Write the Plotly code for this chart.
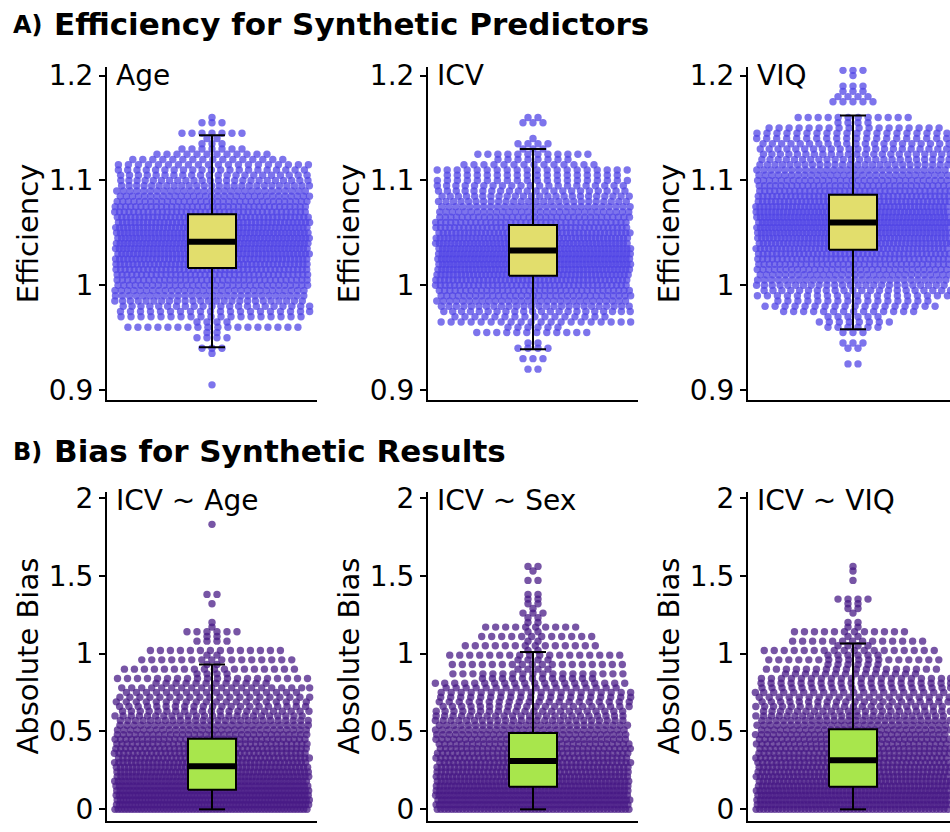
import numpy as np
import plotly.graph_objects as go

# ---------------- data ----------------
EFF_LEVELS = np.round(np.arange(0.905, 1.2101, 0.005), 3)   # value levels (bins) for efficiency
BIAS_LEVELS = np.round(np.arange(0.0, 1.861, 0.03), 2)      # value levels (bins) for absolute bias

# number of simulated results at each efficiency level
eff_age = [1, 0, 0, 0, 0, 0, 1, 3, 0, 4, 2, 18, 4, 19, 20, 22, 25, 28, 31, 34,
           37, 40, 43, 46, 48, 50, 52, 52, 52, 51, 49, 47, 44, 41, 38, 35, 32, 29, 26, 24,
           22, 21, 20, 16, 12, 7, 3, 2, 7, 0, 3, 1, 0, 0, 0, 0, 0, 0, 0, 0, 0, 0]
eff_icv = [0, 0, 0, 2, 0, 3, 0, 4, 2, 0, 12, 6, 20, 16, 22, 26, 30, 34, 37, 41,
           45, 48, 51, 53, 54, 54, 53, 51, 49, 46, 42, 39, 35, 31, 28, 26, 24, 22, 21, 20,
           18, 20, 14, 8, 12, 3, 4, 1, 0, 0, 3, 2, 0, 0, 0, 0, 0, 0, 0, 0, 0, 0]
eff_viq = [0, 0, 0, 0, 2, 0, 0, 2, 3, 0, 3, 6, 8, 6, 14, 18, 16, 20, 22, 25,
           28, 31, 34, 37, 40, 43, 46, 48, 50, 52, 53, 53, 52, 50, 48, 45, 42, 39, 36, 33,
           30, 28, 26, 24, 23, 22, 21, 20, 20, 18, 4, 12, 0, 0, 5, 4, 3, 3, 0, 1, 3, 0]

# number of simulated results at each absolute-bias level
bias_age = [60, 62, 62, 60, 58, 56, 54, 52, 50, 48, 46, 44, 42, 40, 38, 36, 33, 30, 28, 26,
            24, 22, 21, 20, 20, 18, 20, 12, 20, 4, 18, 2, 16, 2, 14, 0, 4, 2, 6, 1,
            1, 0, 0, 0, 1, 0, 2, 0, 0, 0, 0, 0, 0, 0, 0, 0, 0, 0, 0, 0, 0, 1, 0]
bias_sex = [54, 56, 56, 55, 54, 52, 50, 48, 46, 45, 43, 41, 39, 37, 35, 33, 31, 29, 27, 25,
            23, 22, 21, 20, 20, 20, 18, 20, 12, 18, 4, 18, 4, 18, 2, 14, 2, 12, 2, 10,
            2, 2, 3, 1, 2, 2, 2, 0, 0, 2, 0, 1, 2, 0, 0, 0, 0, 0, 0, 0, 0, 0, 0]
bias_viq = [52, 54, 54, 53, 52, 50, 48, 47, 45, 44, 42, 41, 39, 38, 36, 35, 33, 31, 29, 27,
            25, 23, 22, 21, 20, 20, 20, 20, 20, 14, 18, 6, 18, 6, 18, 4, 14, 2, 12, 2,
            2, 0, 1, 2, 2, 4, 0, 0, 0, 1, 0, 1, 1, 0, 0, 0, 0, 0, 0, 0, 0, 0, 0]

# box statistics: lower whisker, q1, median, q3, upper whisker
eff_box = {
    "Age": [0.941, 1.0164, 1.0416, 1.0677, 1.143],
    "ICV": [0.939, 1.009, 1.0332, 1.0574, 1.130],
    "VIQ": [0.958, 1.034, 1.060, 1.0863, 1.162],
}
bias_box = {
    "ICV ~ Age": [0.0, 0.126, 0.277, 0.453, 0.930],
    "ICV ~ Sex": [0.0, 0.145, 0.310, 0.490, 1.010],
    "ICV ~ VIQ": [0.0, 0.145, 0.315, 0.515, 1.065],
}

eff_labels = ["Age", "ICV", "VIQ"]
bias_labels = ["ICV ~ Age", "ICV ~ Sex", "ICV ~ VIQ"]
eff_counts = [eff_age, eff_icv, eff_viq]
bias_counts = [bias_age, bias_sex, bias_viq]

# ---------------- style / layout constants ----------------
W, H = 950, 832
FONT = "DejaVu Sans"
EFF_DOT = "rgba(80,68,230,0.74)"
BIAS_DOT = "rgba(72,26,134,0.74)"
EFF_BOX = "#e2de6c"
BIAS_BOX = "#a8e64c"

COL_X = [(107, 317), (428, 638), (748, 950)]  # pixel extents of each panel
ROW_Y = [(58, 398), (492, 828)]
PX_PER_UNIT = 105.0
STEP = 10.0 / PX_PER_UNIT
CAP = 20
HALF_SPAN = 0.93
BOX_HW = 24 / PX_PER_UNIT
CAP_HW = 13 / PX_PER_UNIT


def _phase(i, k):
    """Deterministic hash in [0,1) used only to vary the horizontal packing phase."""
    v = np.sin(i * 12.9898 + k * 78.233) * 43758.5453
    return v - np.floor(v)


def swarm_positions(levels, counts, key):
    """Beeswarm-like horizontal layout inside a fixed corral (deterministic)."""
    xs, ys = [], []
    for i, (lv, n) in enumerate(zip(levels, counts)):
        if n == 0:
            continue
        if n <= CAP:
            off = (np.arange(n) - (n - 1) / 2.0) * STEP
            if n >= 8:
                off = off + (_phase(i, key) - 0.5) * STEP
        else:
            frac = ((np.arange(n) + 0.5) / n + _phase(i, key)) % 1.0
            off = -HALF_SPAN + frac * 2 * HALF_SPAN
        off = np.clip(off, -HALF_SPAN, HALF_SPAN)
        xs.extend(off.tolist())
        ys.extend([lv] * n)
    return xs, ys


fig = go.Figure()


def add_panel(idx, row, col, levels, counts, box, dot_color, box_color, label, ytitle,
              yrange, tickvals, ticktext):
    xa = "x" if idx == 1 else f"x{idx}"
    ya = "y" if idx == 1 else f"y{idx}"
    xs, ys = swarm_positions(levels, counts, idx)
    fig.add_trace(go.Scatter(x=xs, y=ys, mode="markers", xaxis=xa, yaxis=ya,
                             marker=dict(size=7.4, color=dot_color, line=dict(width=0)),
                             hoverinfo="skip", showlegend=False))
    lo, q1, med, q3, hi = box
    # whiskers
    fig.add_trace(go.Scatter(x=[0, 0, None, 0, 0], y=[q3, hi, None, q1, lo], mode="lines",
                             xaxis=xa, yaxis=ya, line=dict(color="black", width=2),
                             hoverinfo="skip", showlegend=False))
    fig.add_trace(go.Scatter(x=[-CAP_HW, CAP_HW, None, -CAP_HW, CAP_HW],
                             y=[hi, hi, None, lo, lo], mode="lines",
                             xaxis=xa, yaxis=ya, line=dict(color="black", width=2),
                             hoverinfo="skip", showlegend=False))
    # box
    fig.add_trace(go.Scatter(x=[-BOX_HW, BOX_HW, BOX_HW, -BOX_HW, -BOX_HW],
                             y=[q1, q1, q3, q3, q1], mode="lines", fill="toself",
                             fillcolor=box_color, xaxis=xa, yaxis=ya,
                             line=dict(color="black", width=2),
                             hoverinfo="skip", showlegend=False))
    # median
    fig.add_trace(go.Scatter(x=[-BOX_HW, BOX_HW], y=[med, med], mode="lines",
                             xaxis=xa, yaxis=ya, line=dict(color="black", width=6),
                             hoverinfo="skip", showlegend=False))

    x0, x1 = COL_X[col]
    y0, y1 = ROW_Y[row]
    xr = [-1.0, -1.0 + (x1 - x0) / PX_PER_UNIT]
    key_x = "xaxis" if idx == 1 else f"xaxis{idx}"
    key_y = "yaxis" if idx == 1 else f"yaxis{idx}"
    fig.update_layout(**{
        key_x: dict(domain=[x0 / W, x1 / W], range=xr, anchor=ya, showgrid=False,
                    zeroline=False, showticklabels=False, ticks="", showline=True,
                    linecolor="black", linewidth=2, fixedrange=True),
        key_y: dict(domain=[(H - y1) / H, (H - y0) / H], range=yrange, anchor=xa,
                    showgrid=False, zeroline=False, showline=True, linecolor="black",
                    linewidth=2, ticks="outside", ticklen=6, tickwidth=2, tickcolor="black",
                    tickvals=tickvals, ticktext=ticktext,
                    tickfont=dict(family=FONT, size=28, color="black"), fixedrange=True),
    })
    # panel label
    fig.add_annotation(xref="paper", yref="paper", x=(x0 + 7) / W, y=(H - (y0 + 9)) / H,
                       xanchor="left", yanchor="middle", text=label, showarrow=False,
                       font=dict(family=FONT, size=28, color="black"))
    # y-axis title
    fig.add_annotation(xref="paper", yref="paper", x=(x0 - 79) / W, y=(H - (y0 + y1) / 2) / H,
                       xanchor="center", yanchor="middle", text=ytitle, textangle=-90,
                       showarrow=False, font=dict(family=FONT, size=29, color="black"))


for c in range(3):
    add_panel(c + 1, 0, c, EFF_LEVELS, eff_counts[c], eff_box[eff_labels[c]], EFF_DOT, EFF_BOX,
              eff_labels[c], "Efficiency", [0.8907, 1.2084], [0.9, 1.0, 1.1, 1.2],
              ["0.9", "1", "1.1", "1.2"])
    add_panel(c + 4, 1, c, BIAS_LEVELS, bias_counts[c], bias_box[bias_labels[c]], BIAS_DOT,
              BIAS_BOX, bias_labels[c], "Absolute Bias", [-0.0755, 2.038],
              [0, 0.5, 1, 1.5, 2], ["0", "0.5", "1", "1.5", "2"])

# section titles
for txt, sub, ypx in [("A)", "Efficiency for Synthetic Predictors", 15),
                      ("B)", "Bias for Synthetic Results", 451)]:
    fig.add_annotation(xref="paper", yref="paper", x=11 / W, y=(H - ypx) / H, xanchor="left",
                       yanchor="middle", text=f"<b>{txt}</b>", showarrow=False,
                       font=dict(family=FONT, size=24, color="black"))
    fig.add_annotation(xref="paper", yref="paper", x=52 / W, y=(H - ypx + 1) / H, xanchor="left",
                       yanchor="middle", text=f"<b>{sub}</b>", showarrow=False,
                       font=dict(family=FONT, size=31, color="black"))

fig.update_layout(width=W, height=H, margin=dict(l=0, r=0, t=0, b=0),
                  paper_bgcolor="white", plot_bgcolor="white", showlegend=False)

fig.write_html("out.html")
